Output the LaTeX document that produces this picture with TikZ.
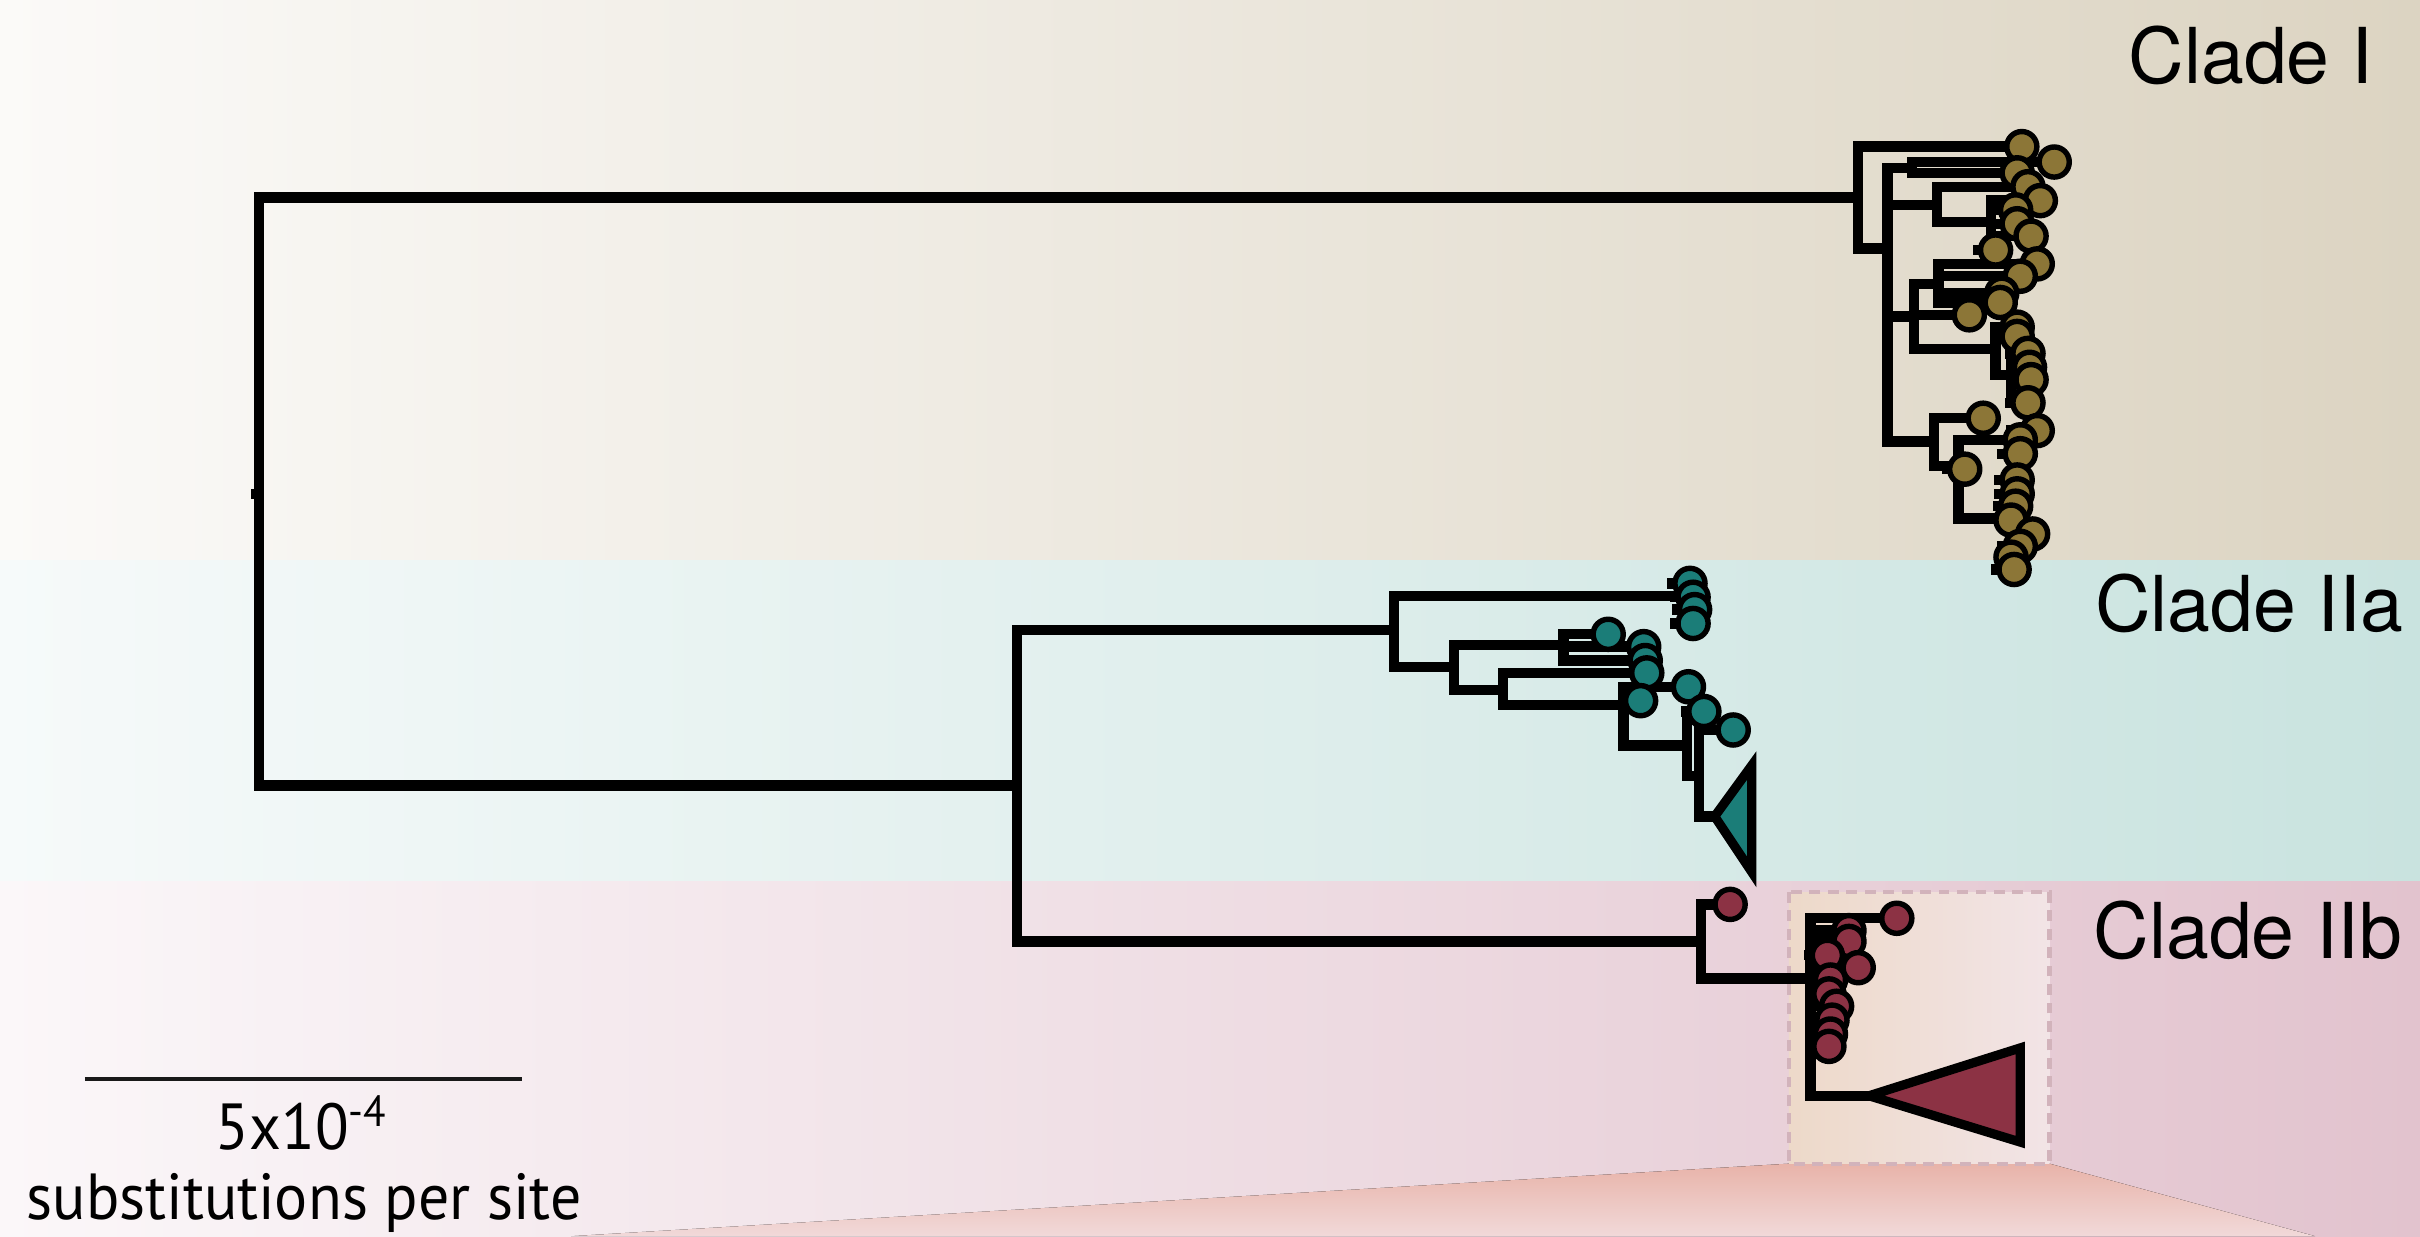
\documentclass[tikz,border=0pt]{standalone}
\usepackage{fontspec}
\setmainfont{TeX Gyre Heros}
\newfontfamily\barfont[FakeStretch=0.95]{PT Sans}
\usetikzlibrary{positioning}

\definecolor{dotI}{HTML}{8C7637}
\definecolor{dotIIa}{HTML}{1B7D78}
\definecolor{dotIIb}{HTML}{8C3244}
\definecolor{bandIl}{HTML}{FBFAF8}
\definecolor{bandIr}{HTML}{DCD4C2}
\definecolor{bandIIal}{HTML}{F6FAFA}
\definecolor{bandIIar}{HTML}{C9E3DF}
\definecolor{bandIIbl}{HTML}{FBF7F9}
\definecolor{bandIIbr}{HTML}{E2C3CE}
\definecolor{zooml}{HTML}{EDD9C9}
\definecolor{zoomr}{HTML}{F2E4E6}
\definecolor{zoomedge}{HTML}{D2B3BB}
\definecolor{fantop}{HTML}{E8B3A9}
\definecolor{fanbot}{HTML}{F1D9D9}

\pgfdeclarelayer{back}
\pgfdeclarelayer{edges}
\pgfsetlayers{back,edges,main}

\tikzset{
	branch/.style={line width=1.9pt, line cap=rect, line join=miter},
	tip/.style={circle, draw=black, line width=1pt, inner sep=0pt, minimum size=1.95mm},
	tipI/.style={tip, fill=dotI},
	tipIIa/.style={tip, fill=dotIIa},
	tipIIb/.style={tip, fill=dotIIb},
	collapsed/.style={draw=black, line width=1.7pt, line join=miter},
	cladelabel/.style={anchor=base east, inner sep=0pt, font=\fontsize{14.2}{17}\selectfont},
	barlabel/.style={anchor=base, inner sep=0pt, font=\barfont\fontsize{12}{14}\selectfont},
}

\begin{document}
\begin{tikzpicture}[x=0.01cm, y=-0.01cm]
	\useasboundingbox (0,0) rectangle (1568,801);

	% clade bands
	\begin{pgfonlayer}{back}
		\fill[left color=bandIl, right color=bandIr] (0,0) rectangle (1568,363);
		\fill[left color=bandIIal, right color=bandIIar] (0,363) rectangle (1568,571);
		\fill[left color=bandIIbl, right color=bandIIbr] (0,571) rectangle (1568,801);
		\fill[top color=fantop, bottom color=fanbot] (1159,754) -- (1328,754) -- (1500,801) -- (370,801) -- cycle;
		\draw[zoomedge, line width=0.8pt, dash pattern=on 2pt off 1.4pt, left color=zooml, right color=zoomr]
			(1159,578) rectangle (1328,754);
	\end{pgfonlayer}

	% internal nodes
	\coordinate (stub) at (166,320);
	\coordinate (root) at (168,320);
	\coordinate (cI) at (1204,128);
	\coordinate (cII) at (659,509);
	\coordinate (cIIa) at (903,408);
	\coordinate (cIIb) at (1102,610);
	\foreach \n/\x/\y in {n2/1223/161, n3/1239/109, n4/1255/133, n7/1290/144,
		n5/1240/205, n8/1256/184, n9/1293/226, n10/1303/243,
		n6/1253/286, n11/1269/302, n12/1303/285, n13/1303/336,
		a1/1093/386, a2/942/432, a3/1013/418, a4/974/447, a5/1052/457,
		a6/1093/483, a7/1101/503, b2/1173/634}
		\coordinate (\n) at (\x,\y);
	\coordinate (apexIIa) at (1111,529);
	\coordinate (apexIIb) at (1211,710);

	% tips
	\foreach \n/\x/\y in {tI1/1310/95, tI2/1331/105, tI3/1307/112, tI4/1314/121,
		tI5/1322/130, tI6/1306/136, tI7/1307/145, tI8/1316/153, tI9/1293/162,
		tI10/1320/171, tI11/1309/179, tI12/1297/190, tI13/1296/196, tI14/1276/204,
		tI15/1307/212, tI16/1307/218, tI17/1314/229, tI18/1315/238, tI19/1316/246,
		tI20/1314/261, tI21/1285/271, tI22/1320/279, tI23/1309/285, tI24/1309/294,
		tI25/1273/304, tI26/1307/311, tI27/1307/320, tI28/1306/328, tI29/1303/337,
		tI30/1317/346, tI31/1309/354, tI32/1303/361, tI33/1305/369}
		\node[tipI] (\n) at (\x,\y) {};
	\foreach \n/\x/\y in {tA1/1095/378, tA2/1097/387, tA3/1098/395, tA4/1097/404,
		tA5/1042/411, tA6/1065/419, tA7/1066/428, tA8/1067/436, tA9/1094/445,
		tA10/1063/454, tA11/1104/461, tA12/1123/473}
		\node[tipIIa] (\n) at (\x,\y) {};
	\foreach \n/\x/\y in {tB1/1121/586, tB2/1229/595, tB3/1198/603, tB4/1198/610,
		tB5/1184/619, tB6/1204/627, tB7/1186/635, tB8/1185/644, tB9/1190/652,
		tB10/1187/661, tB11/1186/670, tB12/1185/678}
		\node[tipIIb] (\n) at (\x,\y) {};

	% collapsed subtrees
	\draw[collapsed, fill=dotIIa] (apexIIa) -- ++(24,-33) -- ++(0,69) -- cycle;
	\draw[collapsed, fill=dotIIb] (apexIIb) -- ++(98,-31) -- ++(0,61) -- cycle;

	% branches
	\begin{pgfonlayer}{edges}
		\draw[branch] (stub) -- (root);
		\foreach \p/\c in {root/cI, root/cII, cII/cIIa, cII/cIIb,
			cI/tI1, cI/n2, n2/n3, n2/n4, n2/n5, n2/n6,
			n3/tI2, n3/tI3, n4/tI4, n4/n7, n7/tI5, n7/tI6, n7/tI7, n7/tI8, n7/tI9,
			n5/n8, n5/tI14, n5/n9, n8/tI10, n8/tI11, n8/tI12, n8/tI13,
			n9/tI15, n9/tI16, n9/n10, n10/tI17, n10/tI18, n10/tI19, n10/tI20,
			n6/tI21, n6/n11, n11/n12, n11/tI25, n11/n13,
			n12/tI22, n12/tI23, n12/tI24,
			n13/tI26, n13/tI27, n13/tI28, n13/tI29, n13/tI30, n13/tI31, n13/tI32, n13/tI33,
			cIIa/a1, cIIa/a2, a1/tA1, a1/tA2, a1/tA3, a1/tA4,
			a2/a3, a2/a4, a3/tA5, a3/tA6, a3/tA7, a4/tA8, a4/a5,
			a5/tA9, a5/tA10, a5/a6, a6/tA11, a6/a7, a7/tA12, a7/apexIIa,
			cIIb/tB1, cIIb/b2, b2/tB2, b2/tB3, b2/tB4, b2/tB5, b2/tB6, b2/tB7,
			b2/tB8, b2/tB9, b2/tB10, b2/tB11, b2/tB12, b2/apexIIb}
			\draw[branch] (\p) |- (\c);
	\end{pgfonlayer}

	% clade names
	\node[cladelabel] (labI) at (1538,54) {Clade I};
	\node[cladelabel] (labIIa) at (1558,409) {Clade IIa};
	\node[cladelabel] (labIIb) at (1557,621) {Clade IIb};

	% scale bar
	\coordinate (barl) at (55,699);
	\coordinate (barr) at (338,699);
	\draw[line width=0.7pt, black!90] (barl) -- (barr);
	\node[barlabel] (barval) at (196,745) {5x10\textsuperscript{-4}};
	\node[barlabel] (barunit) at (197,790) {substitutions per site};
\end{tikzpicture}
\end{document}
